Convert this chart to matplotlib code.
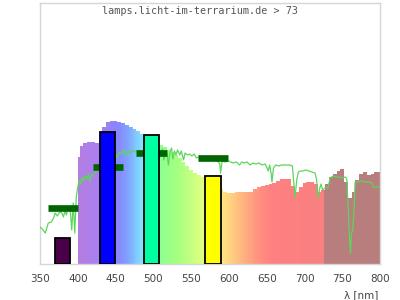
import matplotlib
matplotlib.use("Agg")
import matplotlib.pyplot as plt
import numpy as np
from matplotlib.colors import LinearSegmentedColormap

# lamp spectrum (relative intensity), 5 nm steps from 400 to 800 nm
lamp_nm = list(range(400, 805, 5))
lamp_val = [107, 118, 121, 122, 122, 121, 125, 137, 142, 143,
            143, 142, 141, 139, 137, 135, 133, 130, 128, 126,
            124, 121, 119, 117, 114, 112, 109, 106, 102, 98,
            94, 91, 89, 87, 84, 81, 78, 76, 75, 72,
            71, 71, 72, 72, 72, 72, 72, 75, 77, 78,
            79, 80, 81, 83, 85, 85, 85, 78, 72, 77,
            81, 82, 82, 80, 72, 74, 80, 87, 90, 93,
            95, 82, 66, 72, 84, 90, 92, 89, 90, 92, 92]

# sunlight reference curve
sun_nm = [350, 353, 357, 361, 365, 368, 370, 373, 376, 379, 381, 383, 385, 387, 390,
          392, 394, 396, 398, 400, 402, 404, 406, 408, 410, 412, 414, 416, 418, 420,
          423, 426, 430, 440, 450, 452, 455, 458, 461, 464, 467, 470, 473, 476, 480,
          484, 487, 500, 508, 510, 512, 514, 516, 518, 520, 522, 524, 526, 528, 530,
          532, 535, 537, 540, 542, 545, 548, 551, 554, 557, 560, 565, 570, 575, 580,
          585, 588, 589, 591, 595, 600, 605, 610, 614, 617, 620, 624, 628, 632, 636,
          640, 644, 648, 650, 652, 654, 656, 657, 659, 662, 666, 670, 674, 680, 684,
          686, 687.5, 690, 692, 695, 698, 702, 706, 710, 714, 716, 718, 720, 722, 724,
          727, 731, 734, 738, 742, 746, 750, 754, 756, 758, 760, 761, 762, 764, 766,
          767, 770, 775, 780, 785, 789, 791, 795, 800]
sun_val = [37, 35, 31, 41, 42, 46, 51, 48, 52, 51, 47, 53, 49, 56, 54,
           34, 61, 31, 67, 77, 84, 80, 87, 83, 88, 85, 90, 82, 89, 88,
           92, 94, 100, 108, 110, 106, 112, 110, 114, 109, 113, 111, 114, 112, 113,
           111, 114, 114, 112, 108, 115, 104, 113, 110, 99, 112, 116, 105, 113, 109,
           114, 109, 113, 104, 111, 109, 110, 108, 110, 106, 107, 105, 106, 104, 105,
           103, 100, 91, 103, 102, 103, 101, 102, 99, 102, 101, 102, 99, 101, 100,
           101, 99, 100, 97, 93, 99, 90, 82, 96, 99, 98, 99, 99, 99, 98,
           80, 67, 85, 92, 93, 93, 94, 93, 92, 91, 85, 66, 75, 80, 74,
           76, 76, 86, 88, 87, 87, 86, 87, 85, 54, 20, 11, 30, 34, 60,
           82, 82, 83, 82, 82, 81, 77, 77, 77]

# bands: centre, bar height, bar colour, reference level
band_center = [380, 439.5, 497.5, 579]
band_height = [26, 132, 129, 88]
band_color = ["#4a0048", "#0000ff", "#00ffa0", "#ffff00"]
band_ref = [56, 97, 111, 106.5]

ticks = list(range(350, 801, 50))

spec_cmap = LinearSegmentedColormap.from_list("spec", [
    (0.0, "#b47ee0"), (0.075, "#a880f4"), (0.125, "#8a84ff"), (0.16, "#80a0ff"),
    (0.21, "#80e4ff"), (0.25, "#80ffc0"), (0.275, "#90ff90"), (0.325, "#a4ff80"),
    (0.40, "#d8ff80"), (0.45, "#f4ff80"), (0.475, "#ffe480"), (0.50, "#ffd480"),
    (0.55, "#ffb080"), (0.60, "#ff9080"), (0.64, "#ff8080"), (0.8124, "#f88080"),
    (0.8125, "#b87d7d"), (1.0, "#b87d7d")])

fig = plt.figure(figsize=(4, 3), dpi=100)
ax = fig.add_axes([0.1, 0.12, 0.85, 0.87])

# spectrum fill with rainbow gradient
poly = ax.fill_between(lamp_nm, 0, lamp_val, step="mid", color="none", linewidth=0)
grad = np.linspace(0, 1, 400).reshape(1, -1)
im = ax.imshow(grad, extent=[400, 800, 0, 261], aspect="auto", cmap=spec_cmap,
               origin="lower", interpolation="nearest", zorder=1)
im.set_clip_path(poly.get_paths()[0], transform=ax.transData)

ax.plot(sun_nm, sun_val, color="#5cd65c", lw=0.9, zorder=3)

for c, r in zip(band_center, band_ref):
    ax.plot([c - 20, c + 20], [r, r], color="#006400", lw=4.8,
            solid_capstyle="butt", zorder=4)

ax.bar(band_center, band_height, width=20, color=band_color,
       edgecolor="black", linewidth=1.3, zorder=5)

ax.set_xlim(350, 800)
ax.set_ylim(0, 261)
ax.set_xticks(ticks)
ax.set_yticks([])
ax.tick_params(axis="x", length=0, pad=7.5, labelsize=7.5, labelcolor="#444444")
for s in ax.spines.values():
    s.set_color("#d6d6d6")
    s.set_linewidth(1)

fig.text(0.5, 1 - 11 / 300, "lamps.licht-im-terrarium.de > 73", ha="center",
         va="center", family="DejaVu Sans Mono", fontsize=7.3, color="#555555")
fig.text(0.945, 0.017, "λ [nm]", ha="right", va="center", fontsize=7.5,
         color="#444444")

fig.savefig("out.png", dpi=100)
